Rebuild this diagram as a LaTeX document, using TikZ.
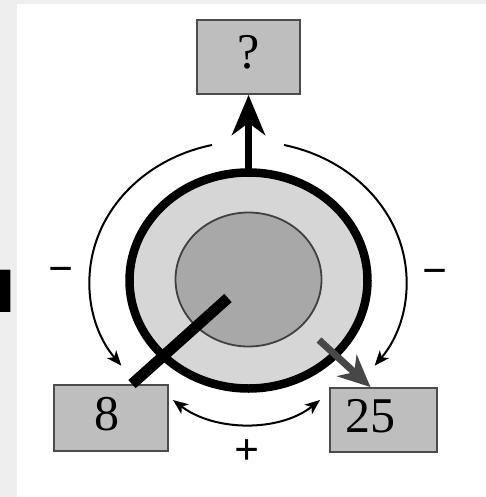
\documentclass[tikz,border=0pt]{standalone}
\usepackage{fontspec}
\setmainfont{Liberation Serif}
\newfontfamily\cyrfont{DejaVu Sans}
\usetikzlibrary{arrows.meta}
\definecolor{boxgray}{HTML}{BEBEBE}
\definecolor{ringgray}{HTML}{D6D6D6}
\definecolor{coregray}{HTML}{A8A8A8}
\definecolor{pagegray}{HTML}{EEEEEE}
\tikzset{
  box/.style={draw=black!70, line width=1.8pt, fill=boxgray, inner sep=0pt,
    text height=34pt, text depth=10pt, font=\fontsize{50}{50}\selectfont},
  thinarrow/.style={line width=2pt},
  sign/.style={inner sep=0pt, font=\bfseries\fontsize{44}{44}\selectfont},
  tipA/.tip={Stealth[length=15pt,width=12pt,inset=4pt]}
}
\begin{document}
\begin{tikzpicture}[x=1pt,y=1pt]
\useasboundingbox (0,0) rectangle (486,-497);
\fill[pagegray] (0,0) rectangle (486,-497);
\fill[white] (17,-4) rectangle (486,-497);
\begin{scope}
\clip (0,0) rectangle (17,-497);
\node[font=\cyrfont\bfseries\fontsize{58}{58}\selectfont, anchor=base east, inner sep=0pt] (lbl) at (16,-312) {Я};
\end{scope}
% ring and core
\draw[line width=8.5pt, fill=ringgray] (248.5,-280.5) ellipse [x radius=119, y radius=108];
\draw[line width=1.8pt, draw=black!75, fill=coregray] (248.5,-279.5) ellipse [x radius=73, y radius=67];
% boxes
\node[box, minimum width=103pt, minimum height=74pt] (q) at (248.5,-57) {?};
\node[box, minimum width=114pt, minimum height=66pt] (b8) at (111,-418) {8\kern8pt};
\node[box, minimum width=107pt, minimum height=64pt] (b25) at (383.5,-420) {25\kern26pt};
% up arrow
\coordinate (ringtop) at (248.5,-170);
\draw[line width=7pt, -{Stealth[length=40pt,width=33pt,inset=12pt]}] (ringtop) -- (q.south);
% black stick
\coordinate (hub) at (228,-298);
\draw[line width=11pt] (hub) -- ([xshift=21pt]b8.north);
% gray arrow
\coordinate (gstart) at (319,-340);
\draw[line width=7pt, draw=black!72, -{Stealth[length=32pt,width=29pt,inset=10pt]}] (gstart) -- ([xshift=-13pt]b25.north);
% side arcs
\coordinate (la) at (212,-145);
\draw[thinarrow, -tipA] (la) arc[start angle=103, end angle=217, x radius=158, y radius=140];
\coordinate (ra) at (284,-145);
\draw[thinarrow, -tipA] (ra) arc[start angle=77, end angle=-37, x radius=158, y radius=140];
% bottom double arrow
\coordinate (pl) at (173,-400);
\coordinate (pr) at (320,-400);
\draw[thinarrow, tipA-tipA] (pl) .. controls (215,-432) and (280,-432) .. (pr);
% signs
\node[sign] (ml) at (61,-275) {−};
\node[sign] (mr) at (435,-277) {−};
\node[sign] (pl2) at (247,-452) {+};
\end{tikzpicture}
\end{document}
